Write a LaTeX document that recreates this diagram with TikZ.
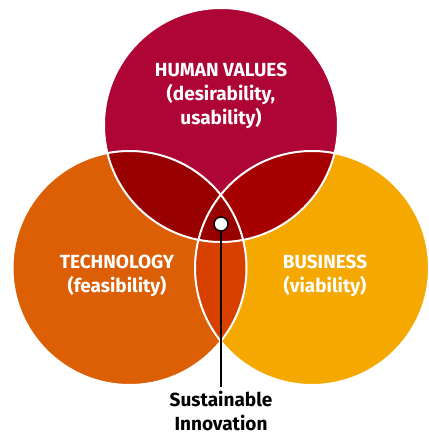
\documentclass[tikz,border=0pt]{standalone}
\usepackage{fontspec}
\setmainfont{Fira Sans}
\usetikzlibrary{positioning}
\definecolor{humanred}{HTML}{AE0436}
\definecolor{techorange}{HTML}{DD5F05}
\definecolor{bizyellow}{HTML}{F5A800}
\definecolor{mixHT}{HTML}{990000}
\definecolor{mixHB}{HTML}{A60000}
\definecolor{mixTB}{HTML}{D84000}
\definecolor{mixAll}{HTML}{990000}

\tikzset{
  circtext/.style={text=white, align=center, font=\bfseries\fontsize{19}{24}\selectfont},
  rim/.style={draw=white, line width=2pt},
  spot/.style={circle, draw=black, fill=white, line width=1.5pt, minimum size=14pt, inner sep=0pt},
}

\begin{document}
\begin{tikzpicture}[x=1pt, y=-1pt]
    \useasboundingbox (0,0) rectangle (428,433);
    \def\rad{117pt}
    \coordinate (Human) at (221  , 125);
    \coordinate (Tech)  at (129.5, 268);
    \coordinate (Biz)   at (312  , 268);

    % the three circles
    \fill [techorange] (Tech)  circle (\rad);
    \fill [bizyellow]  (Biz)   circle (\rad);
    \fill [humanred]   (Human) circle (\rad);

    % overlaps
    \begin{scope}
        \clip (Human) circle (\rad);
        \fill [mixHT] (Tech) circle (\rad);
        \fill [mixHB] (Biz)  circle (\rad);
    \end{scope}
    \begin{scope}
        \clip (Tech) circle (\rad);
        \fill [mixTB] (Biz) circle (\rad);
    \end{scope}
    \begin{scope}
        \clip (Human) circle (\rad);
        \clip (Tech)  circle (\rad);
        \fill [mixAll] (Biz) circle (\rad);
    \end{scope}

    % white rims
    \draw [rim] (Tech)  circle (\rad);
    \draw [rim] (Biz)   circle (\rad);
    \draw [rim] (Human) circle (\rad);

    \node [circtext] at (221, 96)  (HumanText) {HUMAN VALUES\\(desirability,\\usability)};
    \node [circtext] at (117, 276) (TechText)  {TECHNOLOGY\\(feasibility)};
    \node [circtext] at (325, 276) (BizText)   {BUSINESS\\(viability)};

    \node [spot] at (221, 224) (Spot) {};
    \node [circtext, text=black, inner sep=4pt] at (221, 411) (Goal) {Sustainable\\Innovation};

    \draw [line width=1.5pt] (Spot.south) -- (Goal.north);
\end{tikzpicture}
\end{document}
